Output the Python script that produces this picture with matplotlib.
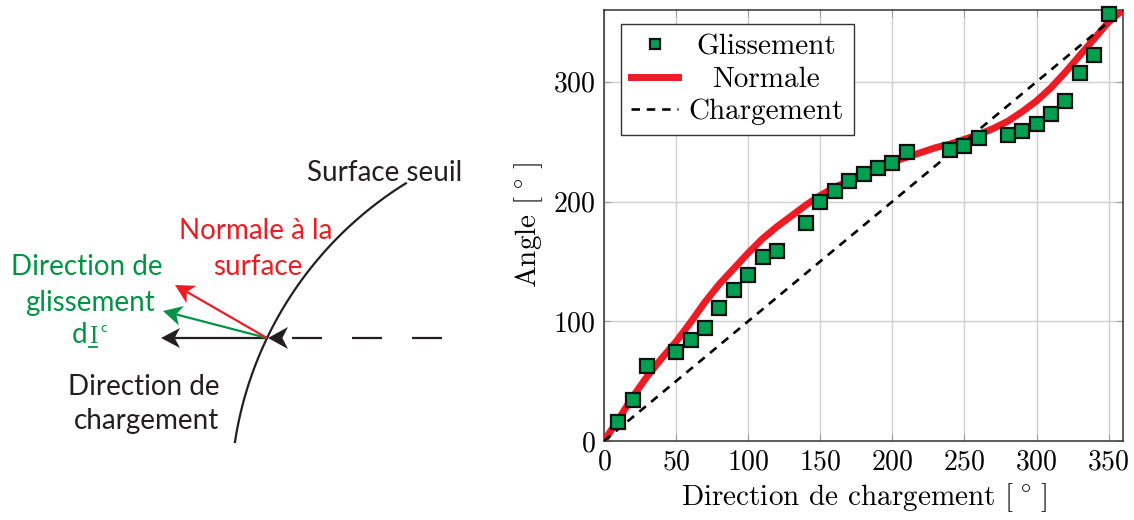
import numpy as np
import matplotlib
matplotlib.use("Agg")
import matplotlib.pyplot as plt
from matplotlib.patches import Polygon

plt.rcParams['font.family'] = 'serif'
plt.rcParams['font.serif'] = ['cmr10']
plt.rcParams['mathtext.fontset'] = 'cm'
plt.rcParams['axes.formatter.use_mathtext'] = True

# glissement (slip direction) points
gl_x = [10, 20, 30, 50, 60, 70, 80, 90, 100, 110, 120, 140, 150, 160, 170,
        180, 190, 200, 210, 240, 250, 260, 280, 290, 300, 310, 320, 330, 340, 350]
gl_y = [16, 34, 63, 74, 84, 94, 111, 126, 139, 154, 159, 182, 200, 209, 217,
        223, 228, 232, 241, 243, 246, 253, 256, 259, 265, 273, 284, 307, 322, 357]

# normale to the surface
nm_x = [0, 10, 20, 30, 40, 50, 60, 70, 80, 90, 100, 110, 120, 130, 140, 150,
        160, 170, 180, 190, 200, 210, 220, 230, 240, 250, 260, 270, 280, 290,
        300, 310, 320, 330, 340, 350, 360]
nm_y = [0, 18, 37, 54, 69, 83, 99, 116, 131, 144, 157, 169, 179, 188, 197, 205,
        212, 217, 222, 228, 233, 237, 241, 245, 248, 252, 256, 261, 267, 275,
        284, 295, 308, 322, 336, 350, 360]

# loading direction
ch_x = [0, 360]
ch_y = [0, 360]

RED = '#ed1c24'
GREEN = '#009444'
MARK = '#00a050'
DARK = '#231f20'
SANS = ['Lato', 'DejaVu Sans']


def stealth(ax, tip, direction, color, length=19, width=10, notch=0.72):
    u = np.asarray(direction, float)
    u = u / np.hypot(*u)
    n = np.array([-u[1], u[0]])
    t = np.asarray(tip, float)
    pts = [t, t - length * u + width * n, t - notch * length * u,
           t - length * u - width * n]
    ax.add_patch(Polygon(pts, closed=True, color=color, lw=0, zorder=4))


def arrow(ax, start, tip, color):
    start = np.asarray(start, float)
    tip = np.asarray(tip, float)
    d = tip - start
    back = tip - 0.72 * 19 * d / np.hypot(*d)
    ax.plot([start[0], back[0]], [start[1], back[1]], color=color, lw=1.6,
            solid_capstyle='butt', zorder=3)
    stealth(ax, tip, d, color)


fig = plt.figure(figsize=(11.34, 5.2), dpi=100)

# ---- schematic on the left, in pixel coordinates
ax0 = fig.add_axes([0, 0, 0.45, 1])
ax0.set_xlim(0, 0.45 * 1134)
ax0.set_ylim(520, 0)
ax0.axis('off')

cx, cy, r = 601, 498, 370.3
th = np.radians(np.linspace(188.7, 238.2, 100))
ax0.plot(cx + r * np.cos(th), cy + r * np.sin(th), color=DARK, lw=1.6)

o = (267, 338)
arrow(ax0, o, (161, 338), DARK)
arrow(ax0, o, (163, 311), GREEN)
arrow(ax0, o, (175, 285), RED)
ax0.plot([292, 442], [338, 338], color=DARK, lw=1.6, dashes=(13.5, 13.5))
stealth(ax0, (268, 338), (-1, 0), DARK, length=20, width=11)

fs = 20
ax0.text(385, 181, 'Surface seuil', ha='center', va='baseline',
         fontsize=fs, family=SANS, color=DARK)
ax0.text(256, 239, 'Normale à la', ha='center', va='baseline',
         fontsize=fs, family=SANS, color=RED)
ax0.text(258, 275, 'surface', ha='center', va='baseline',
         fontsize=fs, family=SANS, color=RED)
ax0.text(87, 275, 'Direction de', ha='center', va='baseline',
         fontsize=fs, family=SANS, color=GREEN)
ax0.text(90, 311, 'glissement', ha='center', va='baseline',
         fontsize=fs, family=SANS, color=GREEN)
ax0.text(87, 343, 'd', ha='right', va='baseline',
         fontsize=fs, family=SANS, color=GREEN)
ax0.text(93, 343, 'I', ha='center', va='baseline',
         fontsize=18, family=['Liberation Serif'], color=GREEN)
ax0.plot([89, 97.5], [346.5, 346.5], color=GREEN, lw=1.3)
ax0.text(100, 332, 'c', ha='left', va='baseline',
         fontsize=10, family=SANS, color=GREEN)
ax0.text(144, 395, 'Direction de', ha='center', va='baseline',
         fontsize=fs, family=SANS, color=DARK)
ax0.text(147, 429, 'chargement', ha='center', va='baseline',
         fontsize=fs, family=SANS, color=DARK)

# ---- plot on the right
ax = fig.add_axes([604 / 1134, 1 - 441 / 520, 519 / 1134, 431 / 520])
ax.plot(gl_x, gl_y, ls='none', marker='s', ms=9.5, mfc=MARK, mec='#111111',
        mew=1.6, label='Glissement', zorder=5, clip_on=False)
ax.plot(nm_x, nm_y, color=RED, lw=5, label='Normale', zorder=3)
ax.plot(ch_x, ch_y, color='black', lw=1.9, dashes=(3.2, 2.6),
        label='Chargement', zorder=4)

ax.set_xlim(0, 360)
ax.set_ylim(0, 360)
ax.set_xticks([0, 50, 100, 150, 200, 250, 300, 350])
ax.set_yticks([0, 100, 200, 300])
ax.grid(True, color='#d0d0d0', lw=1)
ax.set_axisbelow(True)
ax.tick_params(direction='in', length=5, color='#a0a0a0', top=True,
               right=True, labelsize=20, pad=6)
for s in ax.spines.values():
    s.set_color('#333333')
    s.set_linewidth(1.1)
ax.set_xlabel(r'Direction de chargement $[\;^{\circ}\;]$', fontsize=21,
              labelpad=4)
ax.set_ylabel(r'Angle $[\;^{\circ}\;]$', fontsize=21, labelpad=6)

leg = ax.legend(loc='upper left', bbox_to_anchor=(17 / 519, 1 - 14 / 431),
                borderaxespad=0, fontsize=21, fancybox=False,
                edgecolor='#333333', framealpha=1, numpoints=1,
                markerscale=0.8, handlelength=1.6, labelspacing=0.2,
                handletextpad=0.35, borderpad=0.35)
leg.get_frame().set_linewidth(1.0)

# centre the legend texts like pgfplots does
renderer = fig.canvas.get_renderer()
widths = [t.get_window_extent(renderer).width for t in leg.get_texts()]
widest = max(widths)
for t, w in zip(leg.get_texts(), widths):
    t.set_position(((widest - w) / 2, 0))

fig.savefig('out.png', dpi=100)
